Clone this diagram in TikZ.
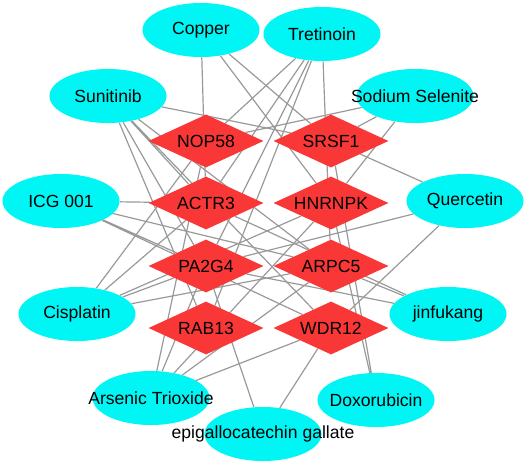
\documentclass[tikz,border=0pt]{standalone}
\usepackage{fontspec}
\setmainfont{Liberation Sans}
\usepackage{xcolor}
\usepackage{tikz}
\usetikzlibrary{shapes.geometric,backgrounds}

\definecolor{drugcyan}{RGB}{0,245,245}
\definecolor{genered}{RGB}{250,55,55}
\newcommand{\nm}[1]{\makebox[0pt]{#1}}

\begin{document}
\begin{tikzpicture}[
  x=0.025cm, y=-0.025cm,
  drug/.style={ellipse, fill=drugcyan, inner sep=0pt,
               minimum width=2.925cm, minimum height=1.35cm,
               font=\fontsize{12.5}{14}\selectfont},
  gene/.style={diamond, fill=genered, inner sep=0pt, aspect=2.17,
               minimum width=2.875cm, minimum height=1.325cm,
               font=\fontsize{12.5}{14}\selectfont},
  link/.style={draw=gray!80, line width=0.85pt}
]
\useasboundingbox (0,0) rectangle (526,463);

% Hub genes (diamonds)
\node[gene] (nop58)  at (206,141) {\nm{NOP58}};
\node[gene] (srsf1)  at (331,141) {\nm{SRSF1}};
\node[gene] (actr3)  at (206,203) {\nm{ACTR3}};
\node[gene] (hnrnpk) at (331,203) {\nm{HNRNPK}};
\node[gene] (pa2g4)  at (206,266) {\nm{PA2G4}};
\node[gene] (arpc5)  at (331,266) {\nm{ARPC5}};
\node[gene] (rab13)  at (206,328) {\nm{RAB13}};
\node[gene] (wdr12)  at (331,328) {\nm{WDR12}};

% Drugs (ellipses)
\node[drug] (copper)    at (201,30)  {\nm{Copper}};
\node[drug] (tretinoin) at (322,34)  {\nm{Tretinoin}};
\node[drug] (sunitinib) at (108,96)  {\nm{Sunitinib}};
\node[drug] (selenite)  at (415,96)  {\nm{Sodium Selenite}};
\node[drug] (icg)       at (61,201)  {\nm{ICG 001}};
\node[drug] (quercetin) at (465,201) {\nm{Quercetin}};
\node[drug] (cisplatin) at (77,314)  {\nm{Cisplatin}};
\node[drug] (jinfukang) at (448,314) {\nm{jinfukang}};
\node[drug] (arsenic)   at (151,398) {\nm{Arsenic Trioxide}};
\node[drug] (doxo)      at (376,400) {\nm{Doxorubicin}};
\node[drug] (egcg)      at (263,434) {\nm{epigallocatechin gallate}};

% Drug--gene links
\begin{scope}[on background layer]
\draw[link] (copper) -- (actr3) (copper) -- (srsf1)
            (copper) -- (hnrnpk);
\draw[link] (tretinoin) -- (arpc5) (tretinoin) -- (nop58)
            (tretinoin) -- (actr3) (tretinoin) -- (pa2g4)
            (tretinoin) -- (rab13);
\draw[link] (sunitinib) -- (srsf1) (sunitinib) -- (actr3)
            (sunitinib) -- (pa2g4) (sunitinib) -- (rab13)
            (sunitinib) -- (arpc5) (sunitinib) -- (wdr12);
\draw[link] (selenite) -- (nop58) (selenite) -- (srsf1)
            (selenite) -- (hnrnpk);
\draw[link] (icg) -- (actr3) (icg) -- (pa2g4)
            (icg) -- (arpc5) (icg) -- (wdr12);
\draw[link] (quercetin) -- (srsf1) (quercetin) -- (pa2g4)
            (quercetin) -- (wdr12);
\draw[link] (cisplatin) -- (nop58) (cisplatin) -- (actr3)
            (cisplatin) -- (pa2g4) (cisplatin) -- (arpc5)
            (cisplatin) -- (hnrnpk);
\draw[link] (jinfukang) -- (actr3) (jinfukang) -- (pa2g4)
            (jinfukang) -- (arpc5);
\draw[link] (arsenic) -- (nop58) (arsenic) -- (pa2g4)
            (arsenic) -- (hnrnpk) (arsenic) -- (arpc5)
            (arsenic) -- (wdr12);
\draw[link] (doxo) -- (srsf1) (doxo) -- (hnrnpk);
\draw[link] (egcg) -- (pa2g4) (egcg) -- (wdr12);
\end{scope}

\end{tikzpicture}
\end{document}
